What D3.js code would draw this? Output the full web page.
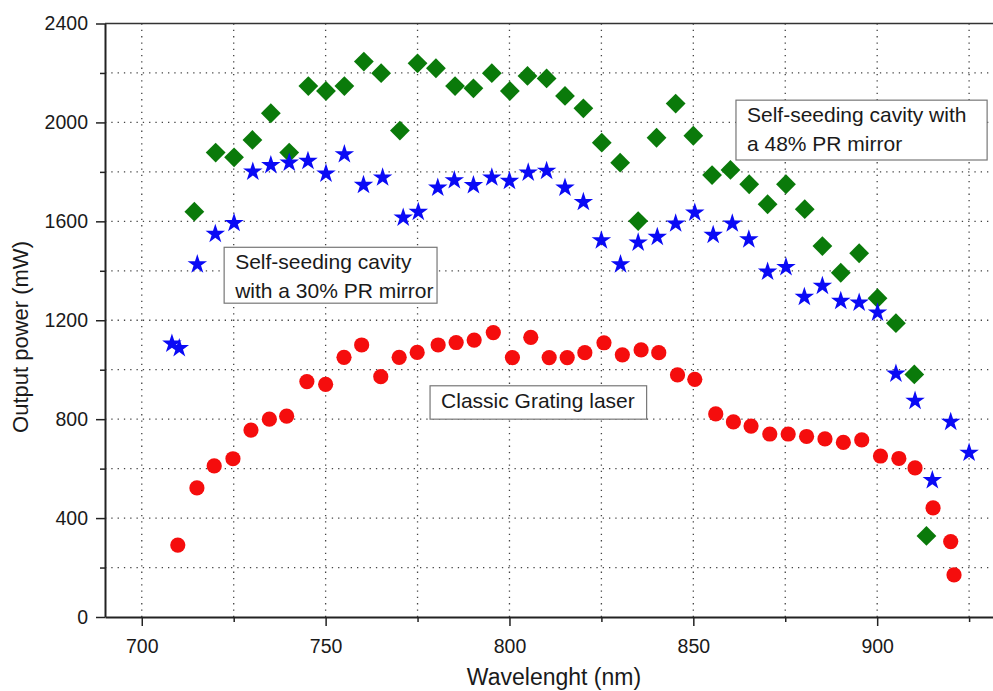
<!DOCTYPE html>
<html>
<head>
<meta charset="utf-8">
<script src="https://cdn.jsdelivr.net/npm/d3@7"></script>
<style>
  body { margin: 0; background: #fff; }
  #chart { width: 993px; height: 691px; }
  text { font-family: "Liberation Sans", Arial, sans-serif; fill: #1a1a1a; }
</style>
</head>
<body>
<div id="chart"></div>
<script>
// Classic grating laser (red circles) : [wavelength nm, power mW]
const gratingData = [
  [709.8, 291], [715, 522], [719.7, 611], [724.8, 640], [729.7, 756], [734.7, 800],
  [739.4, 812], [744.9, 952], [750, 941], [755, 1050], [759.8, 1100], [765, 972],
  [770, 1050], [774.9, 1070], [780.6, 1100], [785.5, 1110], [790.4, 1120], [795.6, 1150],
  [800.8, 1049], [805.8, 1131], [810.8, 1049], [815.7, 1049], [820.5, 1069], [825.7, 1109],
  [830.7, 1060], [835.8, 1080], [840.6, 1069], [845.7, 979], [850.4, 961], [856.1, 821],
  [860.9, 789], [865.7, 772], [870.8, 740], [875.8, 740], [880.8, 730], [885.8, 720],
  [890.8, 706], [895.8, 716], [900.9, 651], [905.9, 641], [910.3, 603], [915.2, 441],
  [920, 305], [920.9, 170]
];

// Self-seeding, 30% PR mirror (blue stars)
const pr30Data = [
  [708.2, 1109], [710.2, 1091], [715.1, 1430], [720, 1553], [725.1, 1597], [730.2, 1805],
  [735.1, 1831], [740.1, 1841], [745.2, 1848], [750.1, 1797], [755.1, 1875], [760.3, 1751],
  [765.5, 1781], [771.1, 1619], [775.2, 1642], [780.5, 1740], [785, 1770], [790.2, 1750],
  [795.2, 1781], [800, 1767], [805.1, 1801], [810.1, 1808], [815.1, 1740], [820.1, 1682],
  [825, 1527], [830.2, 1430], [835, 1518], [840.2, 1541], [845.2, 1595], [850.4, 1639],
  [855.4, 1549], [860.6, 1595], [865.1, 1531], [870.2, 1400], [875.2, 1419], [880.2, 1298],
  [885.1, 1343], [890.1, 1282], [895.1, 1275], [900.1, 1235], [905.1, 988], [910.3, 878],
  [915, 557], [920, 793], [925, 668]
];

// Self-seeding, 48% PR mirror (green diamonds)
const pr48Data = [
  [714.3, 1639], [720.1, 1878], [725.1, 1859], [730.1, 1929], [735.1, 2037], [740.1, 1878],
  [745.3, 2147], [750.1, 2127], [755.1, 2147], [760.4, 2246], [765.1, 2199], [770.2, 1967],
  [775, 2239], [780, 2219], [785.2, 2147], [790.2, 2138], [795.2, 2199], [800.1, 2127],
  [804.9, 2188], [810.1, 2178], [815.1, 2107], [820.1, 2057], [825.1, 1918], [830.1, 1837],
  [835, 1601], [840, 1938], [845.2, 2076], [850, 1946], [855.1, 1787], [860.1, 1808],
  [865.2, 1750], [870.2, 1669], [875.2, 1750], [880.3, 1649], [885.1, 1500], [890.1, 1392],
  [895.1, 1471], [900.1, 1289], [905.1, 1188], [910.1, 981], [913.4, 328]
];

const xMajorTicks = [700, 750, 800, 850, 900];
const xMinorTicks = [725, 775, 825, 875, 925];
const yMajorTicks = [0, 400, 800, 1200, 1600, 2000, 2400];
const yMinorTicks = [200, 600, 1000, 1400, 1800, 2200];

// text boxes, corners in data units
const notes = [
  { lines: ["Self-seeding cavity with", "a 48% PR mirror"], x0: 861.6, x1: 929.9, y0: 2090, y1: 1848 },
  { lines: ["Self-seeding cavity", "with a 30% PR mirror"], x0: 722.4, x1: 780.3, y0: 1495, y1: 1269 },
  { lines: ["Classic Grating laser"], x0: 778.4, x1: 837.3, y0: 935, y1: 800 }
];

const width = 993, height = 691;
const margin = { top: 23.5, right: 0, bottom: 74, left: 105 };

const svg = d3.select("#chart").append("svg")
  .attr("width", width)
  .attr("height", height);

const x = d3.scaleLinear()
  .domain([690, 931.5])
  .range([margin.left, width - margin.right]);
const y = d3.scaleLinear()
  .domain([0, 2400])
  .range([height - margin.bottom, margin.top]);

// dotted grid
const grid = svg.append("g")
  .attr("stroke", "#444")
  .attr("stroke-width", 1.3)
  .attr("stroke-dasharray", "1.3,5");
grid.selectAll(".vg")
  .data(xMajorTicks.concat(xMinorTicks))
  .join("line")
  .attr("x1", d => x(d)).attr("x2", d => x(d))
  .attr("y1", y(0)).attr("y2", y(2400));
grid.selectAll(".hg")
  .data(yMajorTicks.concat(yMinorTicks).filter(d => d > 0 && d < 2400))
  .join("line")
  .attr("x1", x.range()[0]).attr("x2", x.range()[1])
  .attr("y1", d => y(d)).attr("y2", d => y(d));

// axes
svg.append("g")
  .attr("transform", `translate(0,${y(0)})`)
  .call(d3.axisBottom(x).tickValues(xMajorTicks).tickSize(9).tickSizeOuter(0).tickPadding(13));
svg.append("g")
  .attr("transform", `translate(0,${y(0)})`)
  .call(d3.axisBottom(x).tickValues(xMinorTicks).tickSize(5).tickFormat(""))
  .call(g => g.select(".domain").remove());

svg.append("g")
  .attr("transform", `translate(${x.range()[0]},0)`)
  .call(d3.axisLeft(y).tickValues(yMajorTicks).tickFormat(d3.format("d"))
    .tickSize(9).tickSizeOuter(0).tickPadding(8));
svg.append("g")
  .attr("transform", `translate(${x.range()[0]},0)`)
  .call(d3.axisLeft(y).tickValues(yMinorTicks).tickSize(5).tickFormat(""))
  .call(g => g.select(".domain").remove());

svg.selectAll(".domain").attr("stroke", "#222").attr("stroke-width", 2);
svg.selectAll(".tick line").attr("stroke", "#222").attr("stroke-width", 1.5);
svg.selectAll(".tick text").style("font-size", "19.5px").attr("fill", "#1a1a1a");

// top frame line
svg.append("line")
  .attr("x1", x.range()[0]).attr("x2", x.range()[1])
  .attr("y1", y(2400)).attr("y2", y(2400))
  .attr("stroke", "#333").attr("stroke-width", 1.5);

// axis titles
svg.append("text")
  .attr("x", (x.range()[0] + x.range()[1]) / 2 + 5)
  .attr("y", 685)
  .attr("text-anchor", "middle")
  .style("font-size", "23px")
  .text("Wavelenght (nm)");
svg.append("text")
  .attr("transform", "translate(28,337) rotate(-90)")
  .attr("text-anchor", "middle")
  .style("font-size", "22px")
  .text("Output power (mW)");

// series
const diamond = d3.symbol().type(d3.symbolSquare).size(196);
svg.append("g").selectAll("path")
  .data(pr48Data)
  .join("path")
  .attr("d", diamond)
  .attr("transform", d => `translate(${x(d[0])},${y(d[1])}) rotate(45)`)
  .attr("fill", "#0a7a0a");

const star = d3.symbol().type(d3.symbolStar).size(118);
svg.append("g").selectAll("path")
  .data(pr30Data)
  .join("path")
  .attr("d", star)
  .attr("transform", d => `translate(${x(d[0])},${y(d[1]) + 1})`)
  .attr("fill", "#0a0af5");

svg.append("g").selectAll("circle")
  .data(gratingData)
  .join("circle")
  .attr("cx", d => x(d[0]))
  .attr("cy", d => y(d[1]))
  .attr("r", 7.6)
  .attr("fill", "#f50d0d");

// annotation boxes
notes.forEach(n => {
  const g = svg.append("g");
  g.append("rect")
    .attr("x", x(n.x0)).attr("y", y(n.y0))
    .attr("width", x(n.x1) - x(n.x0))
    .attr("height", y(n.y1) - y(n.y0))
    .attr("fill", "#fff")
    .attr("stroke", "#777")
    .attr("stroke-width", 1.2);
  n.lines.forEach((t, i) => {
    g.append("text")
      .attr("x", x(n.x0) + 11)
      .attr("y", y(n.y0) + 22 + i * 28.7)
      .style("font-size", "21px")
      .text(t);
  });
});
</script>
</body>
</html>
